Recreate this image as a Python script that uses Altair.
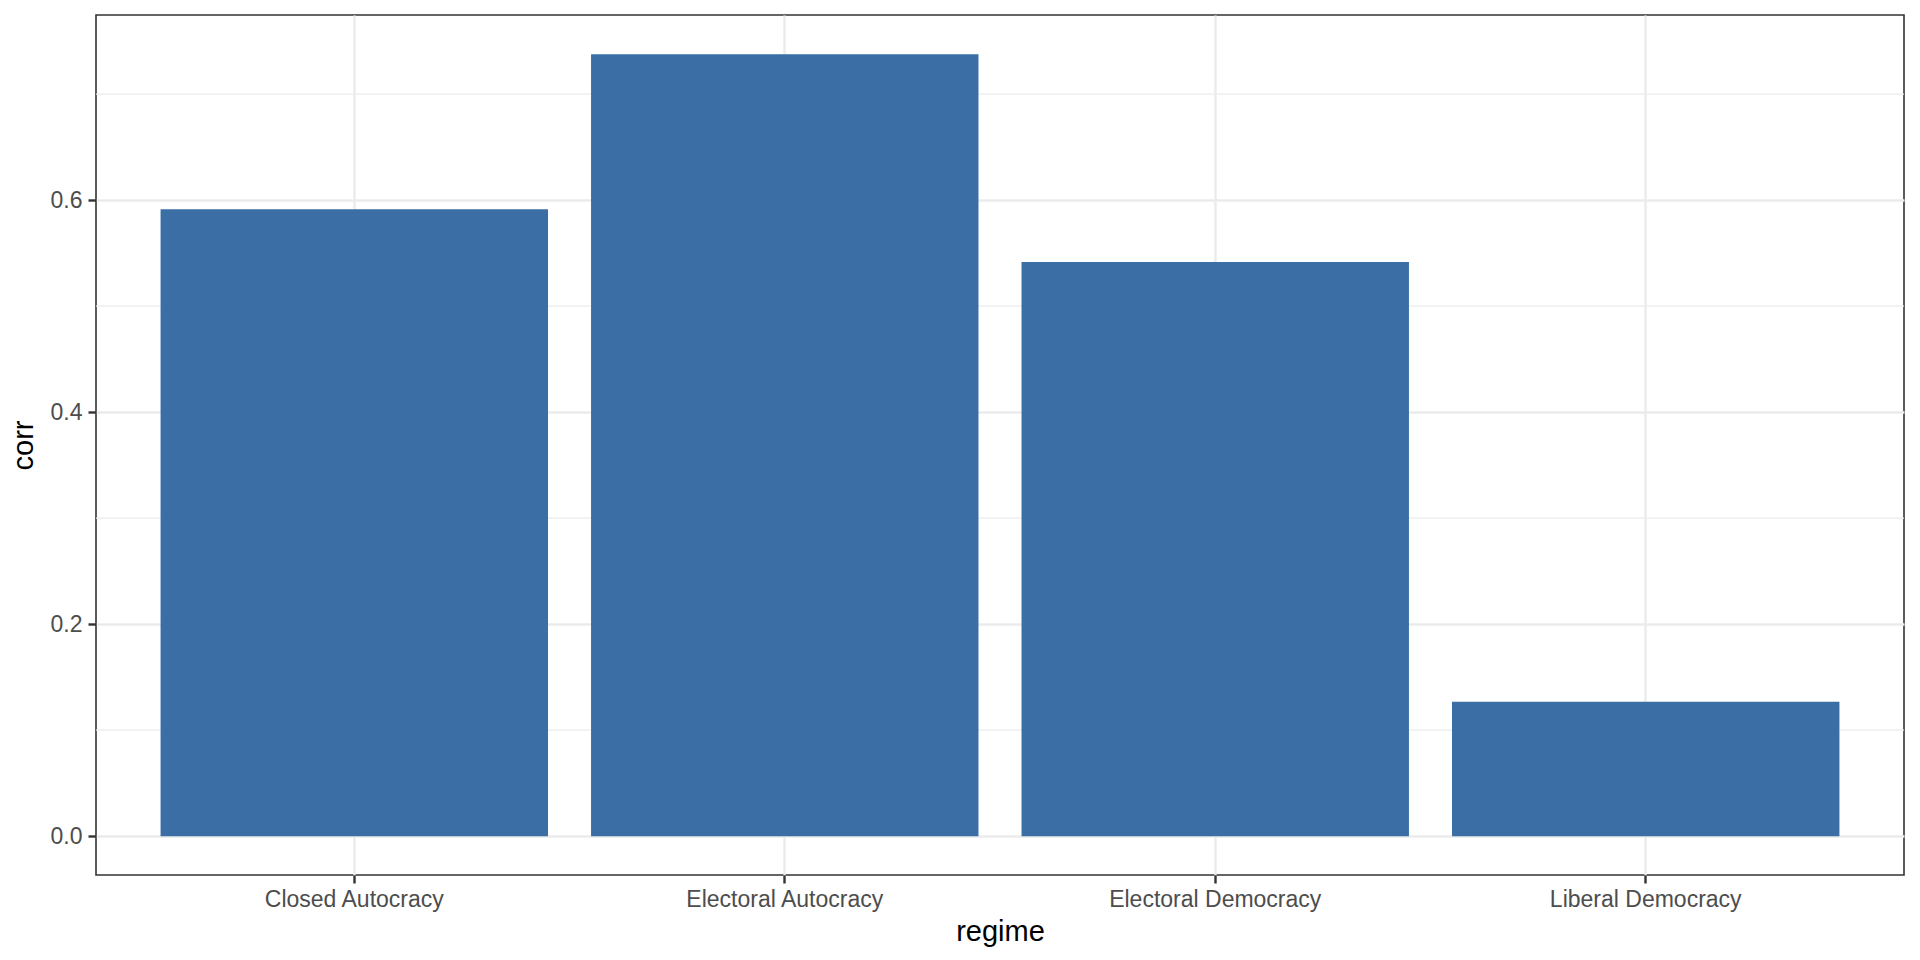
import altair as alt
import pandas as pd

regimes = ["Closed Autocracy", "Electoral Autocracy", "Electoral Democracy", "Liberal Democracy"]
corr = [0.5915, 0.7377, 0.5416, 0.1268]
major_breaks = [0.0, 0.2, 0.4, 0.6]
minor_breaks = [0.1, 0.3, 0.5, 0.7]

df = pd.DataFrame({"regime": regimes, "corr": corr})
minor_df = pd.DataFrame({"corr": minor_breaks})

ydom = [-0.0366, 0.7747]

yscale = alt.Scale(domain=ydom, nice=False, zero=False)

yaxis = alt.Axis(
    title="corr",
    values=major_breaks,
    format=".1f",
    grid=True,
    gridColor="#EBEBEB",
    gridWidth=2.4,
    domain=False,
    tickColor="#333333",
    tickWidth=2.4,
    tickSize=8,
    labelPadding=6,
    labelFont="Liberation Sans",
    labelFontSize=23,
    labelColor="#4D4D4D",
    titleFont="Liberation Sans",
    titleFontSize=29,
    titleFontWeight="normal",
    titleColor="#000000",
    titlePadding=12,
)

minor = alt.Chart(minor_df).mark_rule(color="#EBEBEB", strokeWidth=1.2).encode(
    y=alt.Y("corr:Q", scale=yscale, axis=yaxis)
)

bars = alt.Chart(df).mark_bar(color="#3A6EA5").encode(
    x=alt.X(
        "regime:N",
        sort=regimes,
        scale=alt.Scale(paddingInner=0.1, paddingOuter=0.15),
        axis=alt.Axis(
            title="regime",
            labelAngle=0,
            bandPosition=0.5,
            grid=True,
            gridColor="#EBEBEB",
            gridWidth=2.4,
            domain=False,
            tickColor="#333333",
            tickWidth=2.4,
            tickSize=8,
            labelPadding=5,
            labelLimit=600,
            labelFont="Liberation Sans",
            labelFontSize=23,
            labelColor="#4D4D4D",
            titleFont="Liberation Sans",
            titleFontSize=29,
            titleFontWeight="normal",
            titleColor="#000000",
            titlePadding=6,
        ),
    ),
    y=alt.Y("corr:Q", scale=yscale, axis=yaxis),
)

chart = (
    alt.layer(minor, bars)
    .properties(
        width=1808,
        height=860,
        autosize=alt.AutoSizeParams(type="none"),
        padding={"left": 88, "top": 7, "right": 8, "bottom": 77},
    )
    .configure(background="white")
    .configure_view(stroke="#333333", strokeWidth=1.6)
)

chart.save("out.html", embed_options={"renderer": "svg", "actions": False})
